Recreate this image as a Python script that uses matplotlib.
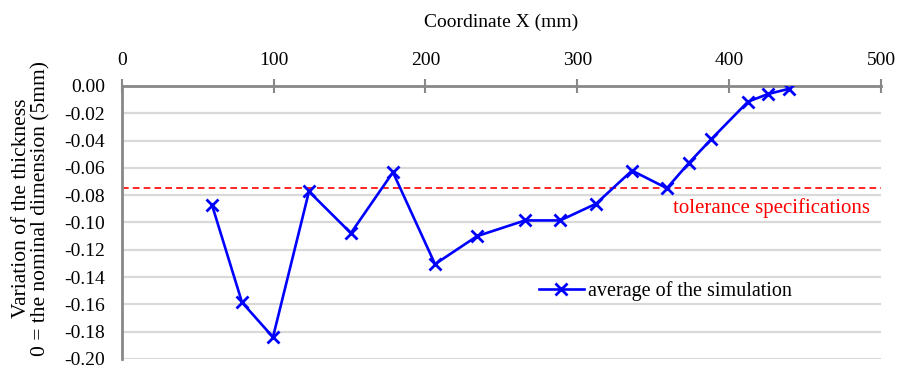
import matplotlib as mpl
import matplotlib.pyplot as plt

mpl.rcParams['font.family'] = ['Liberation Serif', 'DejaVu Serif']

# data
x_mm = [59.4, 79.2, 99.6, 123.3, 150.9, 178.6, 206.3, 234.0, 265.6, 288.7,
        312.3, 336.0, 359.0, 373.7, 388.2, 412.4, 425.6, 439.5]
thickness_var = [-0.087, -0.1585, -0.184, -0.0773, -0.1078, -0.0632, -0.1305, -0.110,
                 -0.0985, -0.0985, -0.0863, -0.062, -0.0749, -0.0561, -0.039, -0.0115,
                 -0.0059, -0.002]
tolerance = -0.075
x_ticks = [0, 100, 200, 300, 400, 500]
y_ticks = [0.00, -0.02, -0.04, -0.06, -0.08, -0.10, -0.12, -0.14, -0.16, -0.18, -0.20]

fig = plt.figure(figsize=(8.99, 3.83), dpi=100)
ax = fig.add_axes([0.1354, 0.0627, 0.8446, 0.7128])

ax.set_xlim(0, 500)
ax.set_ylim(-0.20, 0.0)

# horizontal grid
for yv in y_ticks:
    ax.axhline(yv, color='#d9d9d9', lw=1.6, zorder=0)

ax.axhline(tolerance, color='red', lw=1.2, ls=(0, (4, 2.5)), zorder=2)
ax.text(493, -0.0895, "tolerance specifications", color='red', fontsize=15,
        ha='right', va='center')

ax.plot(x_mm, thickness_var, color='blue', lw=1.9, marker='x', markersize=8,
        markeredgewidth=2, label="average of the simulation", zorder=3)

# axes styling (Excel-like)
for s in ['right', 'bottom']:
    ax.spines[s].set_visible(False)
for s in ['left', 'top']:
    ax.spines[s].set_color('#888888')
    ax.spines[s].set_linewidth(2)
ax.xaxis.tick_top()
ax.xaxis.set_label_position('top')
ax.set_xticks(x_ticks)
ax.set_yticks(y_ticks)
ax.set_yticklabels([f"{v:.2f}" for v in y_ticks])
ax.tick_params(axis='x', direction='inout', length=10, width=1.5, color='#888888',
               labelsize=14, pad=7)
ax.tick_params(axis='y', length=0, labelsize=14, pad=12)

ax.set_xlabel("Coordinate X (mm)", fontsize=14, labelpad=18)
ax.set_ylabel("Variation of the thickness\n0 = the nominal dimension (5mm)",
              fontsize=15.5, linespacing=1.0)
ax.yaxis.set_label_coords(-0.094, 0.553)

ax.legend(loc='center', bbox_to_anchor=(0.716, 0.25), frameon=False, fontsize=14.5,
          handlelength=2.2, handletextpad=0.2)

fig.savefig("out.png", dpi=100)
